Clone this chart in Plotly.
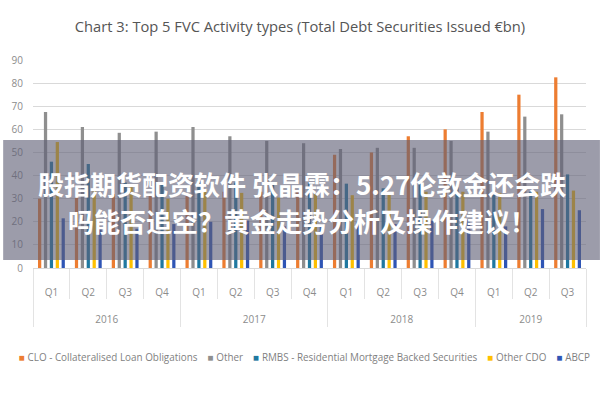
import plotly.graph_objects as go

years = ["2016"] * 4 + ["2017"] * 4 + ["2018"] * 4 + ["2019"] * 3
quarters = ["Q1", "Q2", "Q3", "Q4"] * 3 + ["Q1", "Q2", "Q3"]

clo = [30, 31, 32, 32, 32, 33, 33, 33, 49, 50, 57, 60, 67.5, 75, 82.5]
other = [67.5, 61, 58.5, 59, 61, 57, 55, 54, 51.5, 52, 52, 55, 59, 65.5, 66.5]
rmbs = [46, 45, 37, 36, 38, 37, 37, 37, 36.5, 34.5, 38, 35, 34, 33, 40.5]
other_cdo = [54.5, 34, 35, 30, 34, 32.5, 30.5, 32, 31.5, 32.5, 33, 33, 32.5, 33, 33.5]
abcp = [21.5, 17, 17, 19, 20, 20.5, 18, 19, 20, 19, 20.5, 21, 18, 25.5, 25]

series = [
    ("CLO - Collateralised Loan Obligations", clo, "#ED7D31"),
    ("Other", other, "#8F8F8F"),
    ("RMBS - Residential Mortgage Backed Securities", rmbs, "#1F78A0"),
    ("Other CDO", other_cdo, "#FFC000"),
    ("ABCP", abcp, "#2F55B5"),
]

banner_line1 = "股指期货配资软件 张晶霖：5.27伦敦金还会跌"
banner_line2 = "吗能否追空？黄金走势分析及操作建议！"

# blank lines only to space the two category levels like the original
x_levels = [["<br><br>" + y for y in years], ["<br>" + q for q in quarters]]

fig = go.Figure()
for name, vals, col in series:
    fig.add_trace(go.Bar(x=x_levels, y=vals, name=name,
                         marker=dict(color=col, line=dict(width=0))))

W, H = 600, 400
L, R, T, B = 30, 14, 60, 132
ph = H - T - B
pw = W - L - R

def py(pix):
    return (H - B - pix) / ph

def px(pix):
    return (pix - L) / pw

fig.update_layout(
    width=W, height=H,
    margin=dict(l=L, r=R, t=T, b=B),
    paper_bgcolor="white", plot_bgcolor="white",
    barmode="group", bargap=0.2, bargroupgap=0.45,
    font=dict(family="Open Sans, sans-serif", color="#8C8C8C", size=10),
    title=dict(text="Chart 3: Top 5 FVC Activity types (Total Debt Securities Issued €bn)",
               x=0.5, xanchor="center", y=1 - 27 / H, yanchor="middle",
               font=dict(family="Open Sans, sans-serif", size=14.7, color="#555555")),
    showlegend=False,
)

# legend row built from the series names and colours
sp = "&nbsp;" * 4
legend_txt = sp.join(
    '<span style="color:%s">■</span>&nbsp;%s' % (col, name) for name, _, col in series)
fig.add_annotation(text=legend_txt, xref="paper", yref="paper", x=px(303), y=py(357),
                   xanchor="center", yanchor="middle", showarrow=False,
                   font=dict(family="Open Sans, sans-serif", size=9.9, color="#7F7F7F"))

fig.update_yaxes(range=[0, 90], dtick=10, showgrid=True, gridcolor="#D9D9D9", gridwidth=1,
                 zeroline=False, showline=False, ticks="", ticklabelstandoff=9,
                 tickfont=dict(size=10, color="#8C8C8C"))
fig.update_xaxes(type="multicategory", showgrid=False, showline=True, linecolor="#D9D9D9",
                 ticks="outside", tickson="boundaries", ticklen=30, tickcolor="#E3E3E3",
                 showdividers=True, dividercolor="#E3E3E3", dividerwidth=1,
                 ticklabelstandoff=2,
                 tickfont=dict(size=10, color="#8C8C8C"))

fig.add_shape(type="rect", xref="paper", yref="paper",
              x0=px(0), x1=px(W), y0=py(260), y1=py(140),
              fillcolor="rgba(96,96,118,0.62)", line=dict(width=0), layer="above")

for txt, ypix in [(banner_line1, 183), (banner_line2, 220)]:
    fig.add_annotation(text="<b>" + txt + "</b>", xref="paper", yref="paper",
                       x=px(300), y=py(ypix), xanchor="center", yanchor="middle",
                       showarrow=False,
                       font=dict(family="Noto Sans CJK SC", size=26, color="white"))

fig.write_html("out.html")
